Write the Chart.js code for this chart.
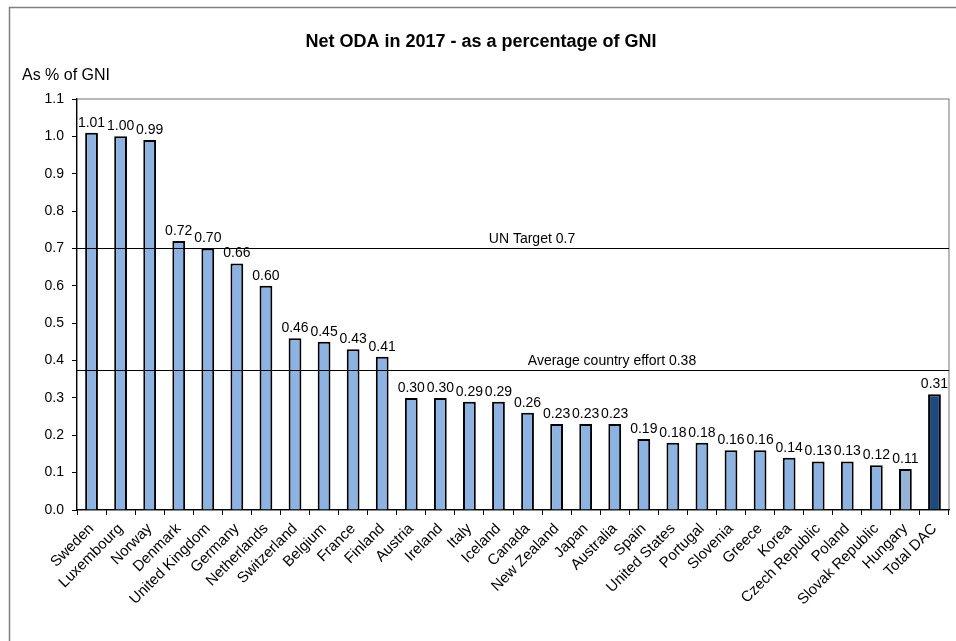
<!DOCTYPE html>
<html>
<head>
<meta charset="utf-8">
<script src="https://cdn.jsdelivr.net/npm/chart.js@4"></script>
<style>
html,body{margin:0;padding:0;background:#fff;}
#wrap{width:956px;height:641px;position:relative;}
</style>
</head>
<body>
<div id="wrap"><canvas id="c" width="956" height="641"></canvas></div>
<script>
const categories = ["Sweden","Luxembourg","Norway","Denmark","United Kingdom","Germany","Netherlands","Switzerland","Belgium","France","Finland","Austria","Ireland","Italy","Iceland","Canada","New Zealand","Japan","Australia","Spain","United States","Portugal","Slovenia","Greece","Korea","Czech Republic","Poland","Slovak Republic","Hungary","Total DAC"];
const odaValues = [1.01,1.00,0.99,0.72,0.70,0.66,0.60,0.46,0.45,0.43,0.41,0.30,0.30,0.29,0.29,0.26,0.23,0.23,0.23,0.19,0.18,0.18,0.16,0.16,0.14,0.13,0.13,0.12,0.11,0.31];
const yTicks = [0.0,0.1,0.2,0.3,0.4,0.5,0.6,0.7,0.8,0.9,1.0,1.1];
const refLineValues = [0.70, 0.375];
const refLineLabels = ["UN Target 0.7", "Average country effort 0.38"];
const titleText = "Net ODA in 2017 - as a percentage of GNI";
const yAxisTitle = "As % of GNI";

const FONT = "'Liberation Sans', Arial, Helvetica, sans-serif";
const barColors = categories.map((c,i)=> c==="Total DAC" ? "#1F497D" : (c==="Hungary" ? "#95B3D7" : "#8DB3E2"));

const decor = {
  id:'decor',
  beforeDraw(chart){
    const ctx = chart.ctx;
    ctx.save();
    ctx.fillStyle = '#fff';
    ctx.fillRect(0,0,chart.width,chart.height);
    ctx.strokeStyle = '#808080';
    ctx.lineWidth = 1.5;
    ctx.strokeRect(9.5,7.5,chart.width+20,chart.height+20);
    const a = chart.chartArea;
    ctx.strokeStyle = '#8a8a8a';
    ctx.lineWidth = 1.2;
    ctx.strokeRect(a.left, a.top, a.right-a.left, a.bottom-a.top);
    ctx.fillStyle = '#000';
    ctx.font = 'bold 18px ' + FONT;
    ctx.textAlign = 'center';
    ctx.textBaseline = 'alphabetic';
    ctx.fillText(titleText, 481, 47);
    ctx.font = '16px ' + FONT;
    ctx.textAlign = 'left';
    ctx.fillText(yAxisTitle, 22, 80);
    ctx.restore();
  },
  afterDatasetsDraw(chart){
    const ctx = chart.ctx;
    const a = chart.chartArea;
    const ys = chart.scales.y;
    ctx.save();
    const labelX = [532, 612];
    refLineValues.forEach((v,i)=>{
      const py = Math.round(ys.getPixelForValue(v)) + 0.5;
      ctx.strokeStyle = '#000';
      ctx.lineWidth = 1.2;
      ctx.beginPath();
      ctx.moveTo(a.left, py);
      ctx.lineTo(a.right, py);
      ctx.stroke();
      ctx.fillStyle = '#000';
      ctx.font = '14px ' + FONT;
      ctx.textAlign = 'center';
      ctx.textBaseline = 'alphabetic';
      ctx.fillText(refLineLabels[i], labelX[i], py - 6);
    });
    const meta = chart.getDatasetMeta(0);
    ctx.font = '14px ' + FONT;
    ctx.textAlign = 'center';
    ctx.textBaseline = 'alphabetic';
    ctx.fillStyle = '#000';
    meta.data.forEach((bar,i)=>{
      ctx.fillText(odaValues[i].toFixed(2), bar.x, bar.y - 6);
    });
    ctx.restore();
  }
};

new Chart(document.getElementById('c'), {
  type:'bar',
  data:{
    labels:categories,
    datasets:[{
      data:odaValues,
      backgroundColor:barColors,
      borderColor:'#000',
      borderWidth:2,
      barPercentage:0.44,
      categoryPercentage:1.0
    }]
  },
  options:{
    responsive:false,
    animation:false,
    devicePixelRatio:1,
    layout:{padding:{left:0,top:99,right:7,bottom:0}},
    plugins:{legend:{display:false},tooltip:{enabled:false},title:{display:false}},
    scales:{
      x:{
        offset:true,
        grid:{offset:true,drawOnChartArea:false,drawTicks:true,tickLength:5,color:'#000',lineWidth:1},
        border:{display:true,color:'#000',width:1.2},
        ticks:{color:'#000',font:{family:FONT,size:15},minRotation:45,maxRotation:45,autoSkip:false,padding:5},
        afterFit(s){ s.height = 131; }
      },
      y:{
        min:0,max:1.1,
        afterBuildTicks(s){ s.ticks = yTicks.map(v=>({value:v})); },
        grid:{drawOnChartArea:false,drawTicks:true,tickLength:5,color:'#000',lineWidth:1},
        border:{display:true,color:'#000',width:1.2},
        ticks:{color:'#000',font:{family:FONT,size:14},padding:8,callback:v=>Number(v).toFixed(1)},
        afterFit(s){ s.width = 77; }
      }
    }
  },
  plugins:[decor]
});
</script>
</body>
</html>
